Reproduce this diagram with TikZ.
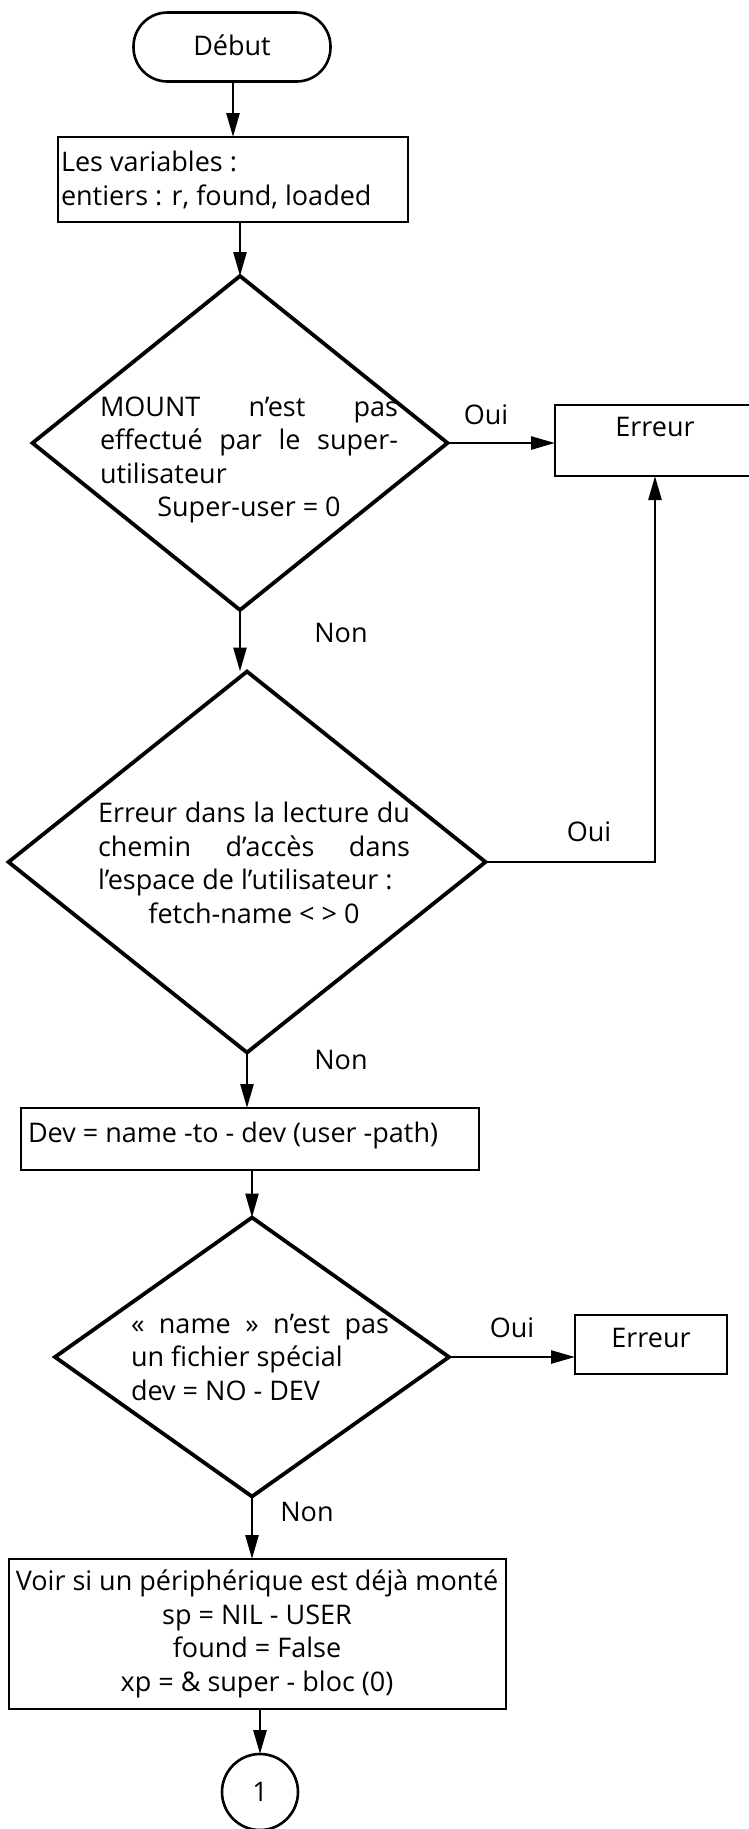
\documentclass[tikz,border=0pt]{standalone}
\usepackage{fontspec}
\setmainfont{Open Sans}
\usetikzlibrary{arrows.meta,shapes.geometric}
\newcommand{\flowfont}{\fontsize{27}{33.5}\selectfont}
\tikzset{
  frame/.style={draw, line width=2.6pt, inner sep=0pt, outer sep=0pt},
  decision/.style={draw, diamond, line width=3.8pt, inner sep=0pt, outer sep=0pt},
  arr/.style={line width=2.6pt, -{Triangle[length=24pt,width=13pt]}},
  txt/.style={inner sep=0pt, outer sep=0pt, font=\flowfont},
}
\begin{document}
\begin{tikzpicture}[x=1pt,y=-1pt]
\useasboundingbox (0,0) rectangle (748,1829);

% start terminal
\node[frame, rounded corners=34pt, minimum width=197pt, minimum height=69pt] (start) at (232,47) {};
\node[txt] (startT) at (232,45) {Début};

% declarations
\node[frame, minimum width=350pt, minimum height=85pt] (vars) at (233,179.5) {};
\node[txt, anchor=west, align=left] (varsT) at (61,180) {Les variables :\\entiers : r, found, loaded};

% first test
\node[decision, minimum width=415pt, minimum height=334pt] (d1) at (240,443) {};
\node[txt, align=left] (d1T) at (249,460) {%
  \makebox[298pt][s]{MOUNT n’est pas}\\
  \makebox[298pt][s]{effectué par le super-}\\
  \makebox[298pt][l]{utilisateur}\\
  \makebox[298pt][c]{Super-user = 0}};

% error box, running off the right side of the page
\node[frame, minimum width=260pt, minimum height=71pt] (e1) at (685,440.5) {};
\node[txt] (e1T) at (655,427) {Erreur};

% second test
\node[decision, minimum width=477pt, minimum height=381pt] (d2) at (247,862) {};
\node[txt, align=left] (d2T) at (254,863) {%
  \makebox[312pt][s]{Erreur dans la lecture du}\\
  \makebox[312pt][s]{chemin d’accès dans}\\
  \makebox[312pt][l]{l’espace de l’utilisateur :}\\
  \makebox[312pt][c]{fetch-name < > 0}};

% device lookup
\node[frame, minimum width=458pt, minimum height=62pt] (dev) at (250,1139) {};
\node[txt, anchor=west] (devT) at (28,1135) {Dev = name -to - dev (user -path)};

% third test
\node[decision, minimum width=394pt, minimum height=279pt] (d3) at (252,1357) {};
\node[txt, align=left] (d3T) at (260,1357) {%
  \makebox[258pt][s]{« name » n’est pas}\\
  \makebox[258pt][l]{un fichier spécial}\\
  \makebox[258pt][l]{dev = NO - DEV}};

\node[frame, minimum width=152pt, minimum height=59pt] (e2) at (651,1344.5) {};
\node[txt] (e2T) at (651,1338) {Erreur};

% search setup
\node[frame, minimum width=497pt, minimum height=150pt] (init) at (257.5,1634) {};
\node[txt, align=center] (initT) at (257,1634) {Voir si un périphérique est déjà monté\\sp = NIL - USER\\found = False\\xp = \& super - bloc (0)};

% connector to next page
\node[frame, circle, minimum size=76pt] (c1) at (260,1792) {};
\node[txt] (c1T) at (260,1792) {1};

% branch labels
\node[txt] (oui1) at (486,415) {Oui};
\node[txt] (non1) at (341,633) {Non};
\node[txt] (oui2) at (589,832) {Oui};
\node[txt] (non2) at (341,1060) {Non};
\node[txt] (oui3) at (512,1328) {Oui};
\node[txt] (non3) at (307,1512) {Non};

% flow
\draw[arr] (start.south -| vars.north) -- (vars.north);
\draw[arr] (vars.south -| d1.north) -- (d1.north);
\draw[arr] (d1.east) -- (d1.east -| e1.west);
\draw[arr] (d1.south) -- (d1.south |- d2.north);
\draw[arr] (d2.east) -| (e1T.south |- e1.south);
\draw[arr] (d2.south) -- (d2.south |- dev.north);
\draw[arr] (dev.south -| d3.north) -- (d3.north);
\draw[arr] (d3.east) -- (d3.east -| e2.west);
\draw[arr] (d3.south) -- (d3.south |- init.north);
\draw[arr] (init.south -| c1.north) -- (c1.north);
\end{tikzpicture}
\end{document}
